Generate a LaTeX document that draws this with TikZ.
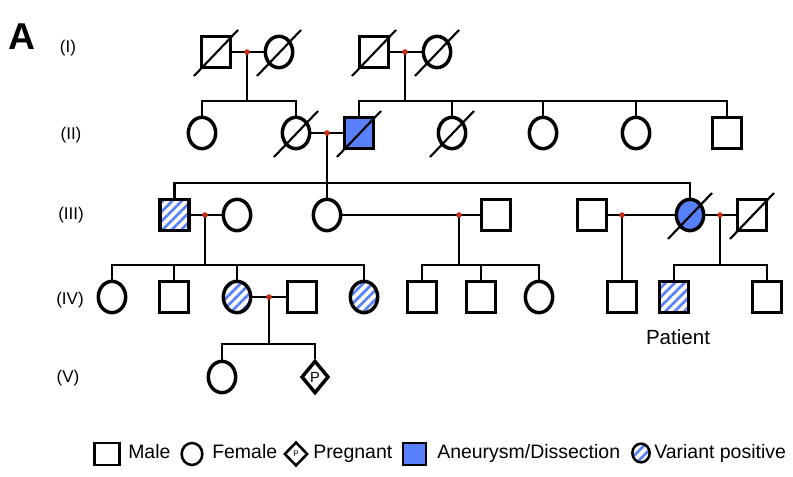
\documentclass[tikz,border=0pt]{standalone}
\usepackage{fontspec}
\setmainfont{Liberation Sans}
\usetikzlibrary{shapes.geometric,patterns.meta}
\definecolor{aneurysm}{RGB}{88,128,250}
\definecolor{uniondot}{RGB}{200,45,20}
\begin{document}
\begin{tikzpicture}[x=0.75pt,y=-0.75pt,
    male/.style={draw,line width=2.6pt,minimum width=21.5pt,minimum height=23.5pt,inner sep=0pt},
    female/.style={ellipse,draw,line width=2.6pt,minimum width=20.5pt,minimum height=23.5pt,inner sep=0pt},
    pregnancy/.style={diamond,draw,line width=2.6pt,minimum width=20.5pt,minimum height=24.5pt,inner sep=0pt,font=\fontsize{11}{11}\selectfont},
    affected/.style={fill=aneurysm},
    carrier/.style={pattern={Lines[angle=45,distance=5pt,line width=2pt]},pattern color=aneurysm},
    keysym/.style={line width=1.9pt},
    union/.style={circle,fill=uniondot,inner sep=0pt,minimum size=4.2pt},
    line/.style={line width=1.6pt},
    slash/.style={line width=1.6pt},
    genlabel/.style={font=\fontsize{12.75}{14}\selectfont},
    keytext/.style={anchor=west,inner sep=0pt,text height=1.6ex,text depth=0.35ex,font=\fontsize{14.6}{16}\selectfont}]
    \useasboundingbox (0,0) rectangle (793,477);
    \node[font=\fontsize{28}{30}\selectfont\bfseries] (panel) at (22,37) {A};
    \node[genlabel] (genI) at (68,48) {(I)};
    \node[genlabel] (genII) at (71,135) {(II)};
    \node[genlabel] (genIII) at (71,215) {(III)};
    \node[genlabel] (genIV) at (70,300) {(IV)};
    \node[genlabel] (genV) at (68,378) {(V)};

    \node[male] (I1) at (216,52) {};
    \node[female] (I2) at (279,52) {};
    \node[male] (I3) at (374,52) {};
    \node[female] (I4) at (437,52) {};

    \node[female] (II1) at (202,133) {};
    \node[female] (II2) at (296,133) {};
    \node[male,affected] (II3) at (359,133) {};
    \node[female] (II4) at (452,133) {};
    \node[female] (II5) at (543,133) {};
    \node[female] (II6) at (636,133) {};
    \node[male] (II7) at (727,133) {};

    \node[male,carrier] (III1) at (174.5,215) {};
    \node[female] (III2) at (237,215) {};
    \node[female] (III3) at (327,215) {};
    \node[male] (III4) at (496,215) {};
    \node[male] (III5) at (592,215) {};
    \node[female,affected] (III6) at (690,215) {};
    \node[male] (III7) at (752,215) {};

    \node[female] (IV1) at (112,297) {};
    \node[male] (IV2) at (174,297) {};
    \node[female,carrier] (IV3) at (237,297) {};
    \node[male] (IV4) at (302,297) {};
    \node[female,carrier] (IV5) at (364,297) {};
    \node[male] (IV6) at (422,297) {};
    \node[male] (IV7) at (481,297) {};
    \node[female] (IV8) at (539,297) {};
    \node[male] (IV9) at (622,297) {};
    \node[male,carrier] (IV10) at (674,297) {};
    \node[male] (IV11) at (767,297) {};
    \node[font=\fontsize{15.4}{17}\selectfont] (patient) at (678,337) {Patient};

    \node[female] (V1) at (222,377) {};
    \node[pregnancy] (V2) at (315,377) {P};

    \coordinate (m1) at (247,52);
    \coordinate (m2) at (405,52);
    \coordinate (m3) at (327,133);
    \coordinate (m4) at (205,215);
    \coordinate (m5) at (459,215);
    \coordinate (m6) at (622,215);
    \coordinate (m7) at (720,215);
    \coordinate (m8) at (269,297);
    \coordinate (s1) at (247,101);
    \coordinate (s2) at (405,101);
    \coordinate (s3) at (327,183);
    \coordinate (s4) at (205,265);
    \coordinate (s5) at (459,265);
    \coordinate (s6) at (720,265);
    \coordinate (s7) at (269,344);

    \draw[line] (I1) -- (I2);
    \draw[line] (I3) -- (I4);
    \draw[line] (II2) -- (II3);
    \draw[line] (III1) -- (III2);
    \draw[line] (III3) -- (III4);
    \draw[line] (III5) -- (III6);
    \draw[line] (III6) -- (III7);
    \draw[line] (IV3) -- (IV4);

    \draw[line] (m1) -- (s1);
    \draw[line] (II1.north) |- (s1) -| (II2.north);
    \draw[line] (m2) -- (s2);
    \draw[line] (II3.north) |- (s2) -| (II7.north);
    \foreach \c in {II4,II5,II6}
        \draw[line] (\c.north) -- (\c.north |- s2);
    \draw[line] (m3) -- (III3.north);
    \draw[line] (III1.north) |- (s3) -| (III6.north);
    \draw[line] (m4) -- (s4);
    \draw[line] (IV1.north) |- (s4) -| (IV5.north);
    \foreach \c in {IV2,IV3}
        \draw[line] (\c.north) -- (\c.north |- s4);
    \draw[line] (m5) -- (s5);
    \draw[line] (IV6.north) |- (s5) -| (IV8.north);
    \draw[line] (IV7.north) -- (IV7.north |- s5);
    \draw[line] (m6) -- (IV9.north);
    \draw[line] (m7) -- (s6);
    \draw[line] (IV10.north) |- (s6) -| (IV11.north);
    \draw[line] (m8) -- (s7);
    \draw[line] (V1.north) |- (s7) -| (V2.north);

    \foreach \p in {I1,I2,I3,I4,II2,II3,II4,III6,III7}
        \draw[slash] ([shift={(-22,24)}]\p.center) -- ([shift={(22,-22)}]\p.center);
    \foreach \m in {m1,m2,m3,m4,m5,m6,m7,m8}
        \node[union] at (\m) {};

    \node[male,keysym,minimum width=19pt,minimum height=16.5pt] (keymale) at (107,454) {};
    \node[keytext] (keymaletext) at (128,454) {Male};
    \node[female,keysym,minimum width=15.5pt,minimum height=16.5pt] (keyfemale) at (192,454) {};
    \node[keytext] (keyfemaletext) at (212,454) {Female};
    \node[pregnancy,keysym,minimum width=17.5pt,minimum height=18pt,font=\fontsize{6}{6}\selectfont] (keypreg) at (296,454) {P};
    \node[keytext] (keypregtext) at (313,454) {Pregnant};
    \node[male,keysym,affected,minimum width=17.5pt,minimum height=16.5pt] (keyaff) at (414.5,454) {};
    \node[keytext] (keyafftext) at (437,454) {Aneurysm/Dissection};
    \node[female,keysym,carrier,minimum width=13pt,minimum height=14pt] (keycarrier) at (641,453) {};
    \node[keytext] (keycarriertext) at (654,454) {Variant positive};
\end{tikzpicture}
\end{document}
